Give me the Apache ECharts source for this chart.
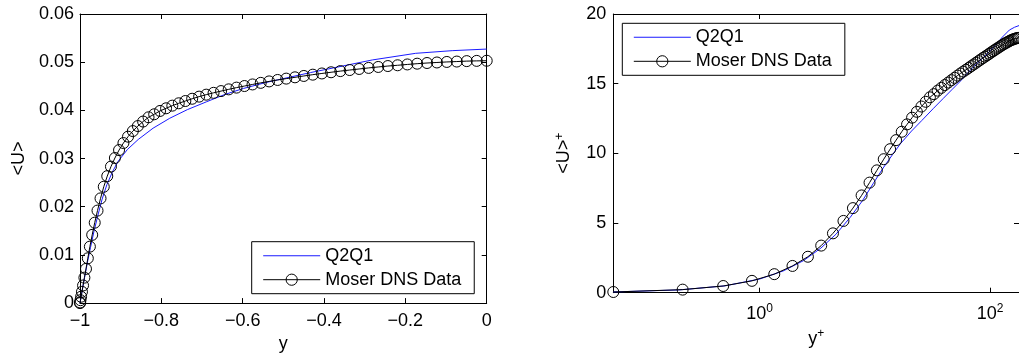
<!DOCTYPE html>
<html>
<head>
<meta charset="utf-8">
<script src="https://cdn.jsdelivr.net/npm/echarts@6/dist/echarts.min.js"></script>
<style>
html,body{margin:0;padding:0;background:#fff;}
#c{width:1019px;height:358px;}
</style>
</head>
<body>
<div id="c"></div>
<script>
// ---- Left panel: outer units ----
const xTicksLeft = [-1, -0.8, -0.6, -0.4, -0.2, 0];
const yTicksLeft = [0, 0.01, 0.02, 0.03, 0.04, 0.05, 0.06];
const moserY = [-1, -0.9997, -0.9988, -0.99729, -0.99518, -0.99248, -0.98918, -0.98528, -0.98079, -0.9757,
  -0.97003, -0.96378, -0.95694, -0.94953, -0.94154, -0.93299, -0.92388, -0.91421, -0.90399, -0.89322,
  -0.88192, -0.87009, -0.85773, -0.84485, -0.83147, -0.81758, -0.80321, -0.78835, -0.77301, -0.75721,
  -0.74095, -0.72425, -0.70711, -0.68954, -0.67156, -0.65317, -0.63439, -0.61523, -0.5957, -0.57581,
  -0.55557, -0.535, -0.5141, -0.4929, -0.4714, -0.44961, -0.42756, -0.40524, -0.38268, -0.3599,
  -0.33689, -0.31368, -0.29028, -0.26671, -0.24298, -0.2191, -0.19509, -0.17096, -0.14673, -0.12241,
  -0.09802, -0.07356, -0.04907, -0.02454, 0];
const moserU = [0, 0.000138, 0.000605, 0.00132, 0.00234, 0.00366, 0.00528, 0.0071, 0.0093, 0.01172,
  0.01416, 0.01669, 0.0192, 0.02173, 0.02415, 0.02635, 0.02833, 0.03011, 0.03176, 0.03322,
  0.03454, 0.0357, 0.03674, 0.03768, 0.03856, 0.03919, 0.03988, 0.04043, 0.04098, 0.04147,
  0.04194, 0.04241, 0.04285, 0.04326, 0.04364, 0.044, 0.04436, 0.04472, 0.04505, 0.04538,
  0.04571, 0.04601, 0.04631, 0.04659, 0.04686, 0.04714, 0.04741, 0.04766, 0.04791, 0.04815,
  0.04837, 0.04859, 0.04881, 0.04901, 0.0492, 0.04936, 0.04953, 0.04969, 0.04983, 0.04994,
  0.05005, 0.05013, 0.05022, 0.05027, 0.0503];
const q2q1Y = [-1, -0.99888, -0.99719, -0.99439, -0.99102, -0.98653, -0.98091, -0.97418, -0.96575, -0.95621,
  -0.94554, -0.93375, -0.92028, -0.90624, -0.88322, -0.85684, -0.82035, -0.77936, -0.73613, -0.68841,
  -0.6435, -0.59802, -0.54244, -0.48406, -0.43297, -0.37682, -0.28138, -0.17471, -0.08489, 0];
const q2q1U = [0, 0.00055, 0.00135, 0.0027, 0.00429, 0.00633, 0.0088, 0.01155, 0.01485, 0.01815,
  0.02159, 0.02461, 0.02723, 0.02943, 0.0319, 0.03396, 0.0363, 0.03836, 0.04015, 0.0418,
  0.04331, 0.04455, 0.04579, 0.04689, 0.04785, 0.04881, 0.05046, 0.05184, 0.05239, 0.05272];

// ---- Right panel: wall units ----
const xTicksRight = [1, 100];
const yTicksRight = [0, 5, 10, 15, 20];
const moserYPlus = [0.0537, 0.2146, 0.4826, 0.8577, 1.3396, 1.9279, 2.6223, 3.4226, 4.328, 5.338,
  6.452, 7.67, 8.99, 10.412, 11.936, 13.559, 15.281, 17.101, 19.019, 21.032,
  23.14, 25.342, 27.635, 30.019, 32.492, 35.053, 37.7, 40.432, 43.246, 46.142,
  49.117, 52.17, 55.299, 58.502, 61.777, 65.122, 68.535, 72.014, 75.557, 79.162,
  82.826, 86.548, 90.325, 94.155, 98.036, 101.965, 105.94, 109.96, 114.02, 118.11,
  122.25, 126.42, 130.61, 134.84, 139.09, 143.37, 147.67, 151.98, 156.32, 160.66,
  165.02, 169.38, 173.75, 178.12];
const moserUPlus = [0.05, 0.22, 0.48, 0.85, 1.33, 1.92, 2.58, 3.38, 4.26, 5.15,
  6.07, 6.98, 7.9, 8.78, 9.58, 10.3, 10.95, 11.55, 12.08, 12.56,
  12.98, 13.36, 13.7, 14.02, 14.25, 14.5, 14.7, 14.9, 15.08, 15.25,
  15.42, 15.58, 15.73, 15.87, 16.0, 16.13, 16.26, 16.38, 16.5, 16.62,
  16.73, 16.84, 16.94, 17.04, 17.14, 17.24, 17.33, 17.42, 17.51, 17.59,
  17.67, 17.75, 17.82, 17.89, 17.95, 18.01, 18.07, 18.12, 18.16, 18.2,
  18.23, 18.26, 18.28, 18.29];
const q2q1YPlus = [0.0537, 0.2, 0.5, 1.0, 1.6, 2.4, 3.4, 4.6, 6.1, 7.8,
  9.7, 11.8, 14.2, 16.7, 20.8, 25.5, 32, 39.3, 47, 55.5,
  63.5, 71.6, 81.5, 91.9, 101, 111, 128, 147, 163, 178.12];
const q2q1UPlus = [0.054, 0.2, 0.49, 0.98, 1.56, 2.3, 3.2, 4.2, 5.4, 6.6,
  7.85, 8.95, 9.9, 10.7, 11.6, 12.35, 13.2, 13.95, 14.6, 15.2,
  15.75, 16.2, 16.65, 17.05, 17.4, 17.75, 18.35, 18.85, 19.05, 19.17];

const FONT = 'Liberation Sans, Arial, Helvetica, sans-serif';
const FS = 18;
const pair = (xs, ys) => xs.map((x, i) => [x, ys[i]]);
const minus = v => String(v).replace('-', '\u2212');

const lineAxis = { show: true, onZero: false, lineStyle: { color: '#000', width: 1 } };
const tickIn = { show: true, inside: true, length: 5, lineStyle: { color: '#000', width: 1 } };
const lbl = { color: '#000', fontFamily: FONT, fontSize: FS };
const rich = { sup: { fontSize: 12, fontFamily: FONT, color: '#000', padding: [0, 0, 10, 0] },
               base: { fontSize: FS, fontFamily: FONT, color: '#000' } };

const chart = echarts.init(document.getElementById('c'), null, { renderer: 'canvas' });

const leftX = { min: xTicksLeft[0], max: xTicksLeft[xTicksLeft.length - 1], interval: 0.2 };
const leftYr = { min: yTicksLeft[0], max: yTicksLeft[yTicksLeft.length - 1], interval: 0.01 };
const rightX = { min: moserYPlus[0], max: moserYPlus[moserYPlus.length - 1] };
const rightYr = { min: yTicksRight[0], max: yTicksRight[yTicksRight.length - 1], interval: 5 };

const BLUE = '#1a1aff';
const legendData = [
  { name: 'Q2Q1', icon: 'path://M0,0H57V1H0Z', itemStyle: { color: BLUE, borderWidth: 0 } },
  { name: 'Moser DNS Data', itemStyle: { color: 'rgba(0,0,0,0)', borderColor: '#000', borderWidth: 1 } }
];
const legendCommon = {
  data: legendData, orient: 'vertical',
  padding: [5, 13, 5, 11], itemGap: 6, itemWidth: 57, itemHeight: 14,
  symbolKeepAspect: true,
  borderColor: '#000', borderWidth: 1, backgroundColor: '#fff',
  lineStyle: { width: 1 },
  textStyle: { color: '#000', fontFamily: FONT, fontSize: FS, padding: [0, 0, 0, 0] },
  selectedMode: false
};

const option = {
  animation: false,
  backgroundColor: '#fff',
  grid: [
    { left: 80, top: 14, width: 406.7, height: 289.3, containLabel: false },
    { left: 613.3, top: 14, width: 411.1, height: 278.7, containLabel: false }
  ],
  xAxis: [
    { gridIndex: 0, type: 'value', position: 'bottom', ...leftX,
      axisLine: lineAxis, axisTick: tickIn, splitLine: { show: false },
      axisLabel: { ...lbl, margin: 9, formatter: v => minus(v) },
      name: 'y', nameLocation: 'middle', nameGap: 30,
      nameTextStyle: { color: '#000', fontFamily: FONT, fontSize: FS } },
    { gridIndex: 0, type: 'value', position: 'top', ...leftX,
      axisLine: lineAxis, axisTick: tickIn, splitLine: { show: false }, axisLabel: { show: false } },
    { gridIndex: 1, type: 'log', logBase: 10, position: 'bottom', ...rightX,
      axisLine: lineAxis,
      axisTick: { ...tickIn, customValues: xTicksRight },
      minorTick: { show: false }, splitLine: { show: false },
      axisLabel: { customValues: xTicksRight, margin: 10, rich: rich,
        formatter: v => '{base|10}{sup|' + Math.round(Math.log10(v)) + '}' },
      name: '{base|y}{sup|+}', nameLocation: 'middle', nameGap: 30,
      nameTextStyle: { rich: rich } },
    { gridIndex: 1, type: 'log', logBase: 10, position: 'top', ...rightX,
      axisLine: lineAxis,
      axisTick: { ...tickIn, customValues: xTicksRight },
      splitLine: { show: false }, axisLabel: { show: false } }
  ],
  yAxis: [
    { gridIndex: 0, type: 'value', position: 'left', ...leftYr,
      axisLine: lineAxis, axisTick: tickIn, splitLine: { show: false },
      axisLabel: { ...lbl, margin: 6 },
      name: '<U>', nameLocation: 'middle', nameGap: 52, nameRotate: 90,
      nameTextStyle: { color: '#000', fontFamily: FONT, fontSize: FS } },
    { gridIndex: 0, type: 'value', position: 'right', ...leftYr,
      axisLine: lineAxis, axisTick: tickIn, splitLine: { show: false }, axisLabel: { show: false } },
    { gridIndex: 1, type: 'value', position: 'left', ...rightYr,
      axisLine: lineAxis, axisTick: tickIn, splitLine: { show: false },
      axisLabel: { ...lbl, margin: 7 },
      name: '{base|<U>}{sup|+}', nameLocation: 'middle', nameGap: 38, nameRotate: 90,
      nameTextStyle: { rich: rich } },
    { gridIndex: 1, type: 'value', position: 'right', ...rightYr,
      axisLine: lineAxis, axisTick: tickIn, splitLine: { show: false }, axisLabel: { show: false } }
  ],
  legend: [
    { ...legendCommon, left: 251.7, top: 241.7 },
    { ...legendCommon, left: 622.3, top: 23.3 }
  ],
  series: [
    { name: 'Q2Q1', type: 'line', xAxisIndex: 0, yAxisIndex: 0, data: pair(q2q1Y, q2q1U),
      showSymbol: false, symbol: 'none', clip: false,
      lineStyle: { color: BLUE, width: 1 }, itemStyle: { color: BLUE } },
    { name: 'Moser DNS Data', type: 'line', xAxisIndex: 0, yAxisIndex: 0, data: pair(moserY, moserU),
      symbol: 'circle', symbolSize: 11, clip: false,
      lineStyle: { color: '#000', width: 1 },
      itemStyle: { color: 'rgba(0,0,0,0)', borderColor: '#000', borderWidth: 1 } },
    { name: 'Q2Q1', type: 'line', xAxisIndex: 2, yAxisIndex: 2, data: pair(q2q1YPlus, q2q1UPlus),
      showSymbol: false, symbol: 'none', clip: false,
      lineStyle: { color: BLUE, width: 1 }, itemStyle: { color: BLUE } },
    { name: 'Moser DNS Data', type: 'line', xAxisIndex: 2, yAxisIndex: 2, data: pair(moserYPlus, moserUPlus),
      symbol: 'circle', symbolSize: 11, clip: false,
      lineStyle: { color: '#000', width: 1 },
      itemStyle: { color: 'rgba(0,0,0,0)', borderColor: '#000', borderWidth: 1 } }
  ]
};
chart.setOption(option);
</script>
</body>
</html>
